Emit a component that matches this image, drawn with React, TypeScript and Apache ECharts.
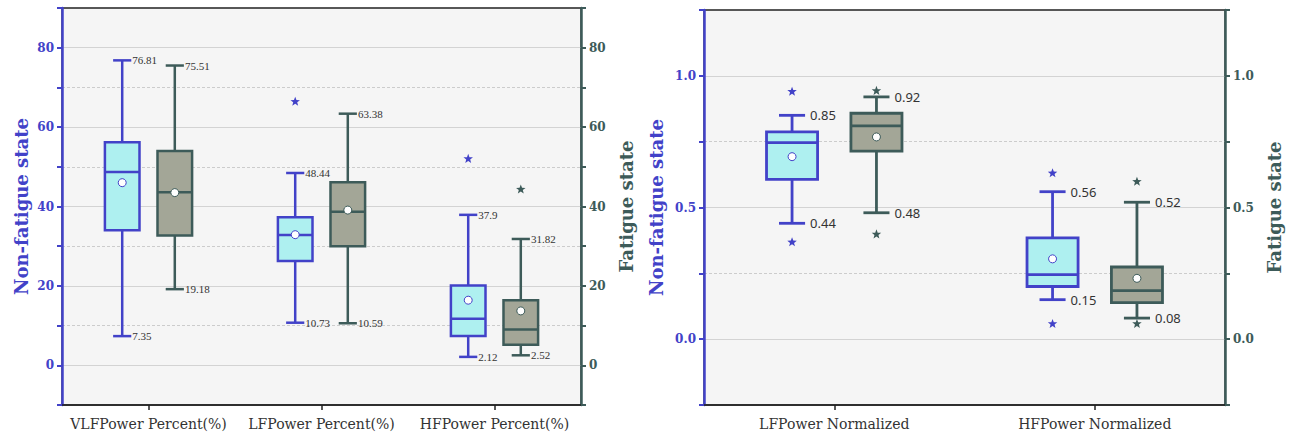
import React, { useEffect, useRef } from "react";
import * as echarts from "echarts";

// Category names of both panels
const percentCategories = ["VLFPower Percent(%)", "LFPower Percent(%)", "HFPower Percent(%)"];
const normalizedCategories = ["LFPower Normalized", "HFPower Normalized"];

// Box statistics per category: [lower whisker, Q1, median, Q3, upper whisker, mean]
const percentNonFatigue = [
  [7.35, 34.0, 48.7, 56.2, 76.81, 46.0],
  [10.73, 26.3, 32.8, 37.3, 48.44, 32.9],
  [2.12, 7.4, 11.7, 20.1, 37.9, 16.4],
];
const percentFatigue = [
  [19.18, 32.7, 43.6, 54.0, 75.51, 43.5],
  [10.59, 30.0, 38.7, 46.1, 63.38, 39.1],
  [2.52, 5.2, 9.0, 16.4, 31.82, 13.7],
];
const normalizedNonFatigue = [
  [0.44, 0.607, 0.746, 0.787, 0.85, 0.693],
  [0.15, 0.2, 0.245, 0.385, 0.56, 0.305],
];
const normalizedFatigue = [
  [0.48, 0.714, 0.81, 0.858, 0.92, 0.768],
  [0.08, 0.139, 0.184, 0.274, 0.52, 0.231],
];

// Outliers: [category index, value]
const percentNonFatigueOutliers = [[1, 66.4], [2, 52.0]];
const percentFatigueOutliers = [[2, 44.3]];
const normalizedNonFatigueOutliers = [[0, 0.94], [0, 0.368], [1, 0.63], [1, 0.058]];
const normalizedFatigueOutliers = [[0, 0.943], [0, 0.398], [1, 0.598], [1, 0.058]];

// Value axes: range, step and the ticks that carry a label
const percentRange = [-10, 90];
const percentStep = 10;
const percentLabelValues = [0, 20, 40, 60, 80];
const normalizedRange = [-0.25, 1.25];
const normalizedStep = 0.25;
const normalizedLabelValues = [0, 0.5, 1.0];

const BLUE = "#4242c8";
const CYAN = "#aef0f0";
const SLATE = "#3d5b59";
const GREY = "#a3a697";
const SERIF = "DejaVu Serif";

type BoxOpts = {
  offset: number;
  box: number;
  cap: number;
  lw: number;
  meanR: number;
  labelGap: number;
  labelFont: string;
  labelSize: number;
};

function boxRenderer(side: number, stroke: string, fill: string, meanStroke: string, o: BoxOpts) {
  return (params: any, api: any) => {
    const cat = api.value(0);
    const band = api.size([1, 0])[0];
    const cx = api.coord([cat, 0])[0] + side * o.offset * band;
    const yOf = (i: number) => api.coord([cat, api.value(i)])[1];
    const yMin = yOf(1), yQ1 = yOf(2), yMed = yOf(3), yQ3 = yOf(4), yMax = yOf(5), yMean = yOf(6);
    const hb = (o.box * band) / 2;
    const hc = (o.cap * band) / 2;
    const line = (x1: number, y1: number, x2: number, y2: number) => ({
      type: "line",
      shape: { x1, y1, x2, y2 },
      style: { stroke, lineWidth: o.lw },
    });
    const label = (y: number, v: number) => ({
      type: "text",
      x: cx + hc + o.labelGap,
      y,
      style: {
        text: String(v),
        fill: "#333",
        fontSize: o.labelSize,
        fontFamily: o.labelFont,
        align: "left",
        verticalAlign: "middle",
      },
    });
    return {
      type: "group",
      children: [
        line(cx, yMax, cx, yQ3),
        line(cx, yQ1, cx, yMin),
        line(cx - hc, yMax, cx + hc, yMax),
        line(cx - hc, yMin, cx + hc, yMin),
        {
          type: "rect",
          shape: { x: cx - hb, y: yQ3, width: 2 * hb, height: yQ1 - yQ3 },
          style: { fill, stroke, lineWidth: o.lw },
        },
        line(cx - hb, yMed, cx + hb, yMed),
        {
          type: "circle",
          shape: { cx, cy: yMean, r: o.meanR },
          style: { fill: "#fff", stroke: meanStroke, lineWidth: 1 },
        },
        label(yMax, api.value(5)),
        label(yMin, api.value(1)),
      ],
    };
  };
}

function starRenderer(side: number, color: string, offset: number, r: number) {
  return (params: any, api: any) => {
    const cat = api.value(0);
    const band = api.size([1, 0])[0];
    const [x0, y0] = api.coord([cat, api.value(1)]);
    const cx = x0 + side * offset * band;
    const points: number[][] = [];
    for (let k = 0; k < 10; k++) {
      const a = -Math.PI / 2 + (k * Math.PI) / 5;
      const rr = k % 2 === 0 ? r : r * 0.42;
      points.push([cx + rr * Math.cos(a), y0 + rr * Math.sin(a)]);
    }
    return { type: "polygon", shape: { points }, style: { fill: color } };
  };
}

const isLabelled = (labels: number[]) => (v: number) => labels.some((l) => Math.abs(l - v) < 1e-9);

function valueAxis(
  gridIndex: number,
  position: "left" | "right",
  color: string,
  range: number[],
  step: number,
  labels: number[],
  digits: number,
  name: string,
  nameGap: number,
  lineColors: string[],
  dashed: boolean
) {
  const labelled = isLabelled(labels);
  return {
    type: "value",
    gridIndex,
    position,
    min: range[0],
    max: range[1],
    interval: step,
    name,
    nameLocation: "middle",
    nameGap,
    nameTextStyle: { color, fontFamily: SERIF, fontWeight: "bold", fontSize: 18 },
    axisLine: { show: true, lineStyle: { color, width: 2.5 } },
    axisTick: { show: true, inside: false, length: 5, lineStyle: { color, width: 2 } },
    axisLabel: {
      color,
      fontFamily: SERIF,
      fontWeight: "bold",
      fontSize: 12,
      margin: 8,
      formatter: (v: number) => (labelled(v) ? v.toFixed(digits) : ""),
    },
    splitLine: {
      show: true,
      showMinLine: false,
      showMaxLine: false,
      lineStyle: { color: lineColors, width: 1, type: dashed ? [3, 2] : "solid" },
    },
  };
}

function categoryAxis(gridIndex: number, data: string[]) {
  return {
    type: "category",
    gridIndex,
    data,
    boundaryGap: true,
    axisLine: { show: true, onZero: false, lineStyle: { color: "#222", width: 1.5 } },
    axisTick: { show: true, alignWithLabel: true, length: 5, lineStyle: { color: "#222", width: 1.5 } },
    axisLabel: { color: "#333", fontFamily: SERIF, fontSize: 14, margin: 12, interval: 0 },
    splitLine: { show: false },
  };
}

const withIndex = (rows: number[][]) => rows.map((r, i) => [i, ...r]);

export default function App() {
  const ref = useRef<HTMLDivElement>(null);

  useEffect(() => {
    if (!ref.current) return;
    const chart = echarts.init(ref.current, undefined, { renderer: "svg" });

    const leftOpts: BoxOpts = {
      offset: 0.152, box: 0.2, cap: 0.105, lw: 2.5, meanR: 4,
      labelGap: 1, labelFont: "Liberation Serif", labelSize: 11,
    };
    const rightOpts: BoxOpts = {
      offset: 0.162, box: 0.196, cap: 0.1, lw: 2.8, meanR: 4,
      labelGap: 5, labelFont: "Noto Sans", labelSize: 13,
    };

    // Lines alternate from the first interior tick: labelled ticks solid, the ones between dashed
    const solidCycle = ["#d3d3d3", "rgba(0,0,0,0)"];
    const dashedCycle = ["rgba(0,0,0,0)", "#cccccc"];

    const option = {
      animation: false,
      grid: [
        { left: 62, top: 8, width: 519, height: 397, show: true, backgroundColor: "#f5f5f5", borderColor: "#222", borderWidth: 1.3 },
        { left: 704, top: 10, width: 521, height: 395, show: true, backgroundColor: "#f5f5f5", borderColor: "#222", borderWidth: 1.3 },
      ],
      xAxis: [categoryAxis(0, percentCategories), categoryAxis(1, normalizedCategories)],
      yAxis: [
        valueAxis(0, "left", BLUE, percentRange, percentStep, percentLabelValues, 0, "Non-fatigue state", 32, solidCycle, false),
        valueAxis(0, "right", SLATE, percentRange, percentStep, percentLabelValues, 0, "Fatigue state", 36, dashedCycle, true),
        valueAxis(1, "left", BLUE, normalizedRange, normalizedStep, normalizedLabelValues, 1, "Non-fatigue state", 39, solidCycle, false),
        valueAxis(1, "right", SLATE, normalizedRange, normalizedStep, normalizedLabelValues, 1, "Fatigue state", 40, dashedCycle, true),
      ],
      series: [
        {
          type: "custom", name: "Non-fatigue", xAxisIndex: 0, yAxisIndex: 0,
          data: withIndex(percentNonFatigue), encode: { x: 0, y: [1, 2, 3, 4, 5, 6] },
          renderItem: boxRenderer(-1, BLUE, CYAN, BLUE, leftOpts), z: 3,
        },
        {
          type: "custom", name: "Fatigue", xAxisIndex: 0, yAxisIndex: 1,
          data: withIndex(percentFatigue), encode: { x: 0, y: [1, 2, 3, 4, 5, 6] },
          renderItem: boxRenderer(1, SLATE, GREY, SLATE, leftOpts), z: 3,
        },
        {
          type: "custom", xAxisIndex: 0, yAxisIndex: 0, data: percentNonFatigueOutliers,
          encode: { x: 0, y: 1 }, renderItem: starRenderer(-1, BLUE, leftOpts.offset, 5), z: 4,
        },
        {
          type: "custom", xAxisIndex: 0, yAxisIndex: 1, data: percentFatigueOutliers,
          encode: { x: 0, y: 1 }, renderItem: starRenderer(1, SLATE, leftOpts.offset, 5), z: 4,
        },
        {
          type: "custom", name: "Non-fatigue", xAxisIndex: 1, yAxisIndex: 2,
          data: withIndex(normalizedNonFatigue), encode: { x: 0, y: [1, 2, 3, 4, 5, 6] },
          renderItem: boxRenderer(-1, BLUE, CYAN, BLUE, rightOpts), z: 3,
        },
        {
          type: "custom", name: "Fatigue", xAxisIndex: 1, yAxisIndex: 3,
          data: withIndex(normalizedFatigue), encode: { x: 0, y: [1, 2, 3, 4, 5, 6] },
          renderItem: boxRenderer(1, SLATE, GREY, SLATE, rightOpts), z: 3,
        },
        {
          type: "custom", xAxisIndex: 1, yAxisIndex: 2, data: normalizedNonFatigueOutliers,
          encode: { x: 0, y: 1 }, renderItem: starRenderer(-1, BLUE, rightOpts.offset, 5), z: 4,
        },
        {
          type: "custom", xAxisIndex: 1, yAxisIndex: 3, data: normalizedFatigueOutliers,
          encode: { x: 0, y: 1 }, renderItem: starRenderer(1, SLATE, rightOpts.offset, 5), z: 4,
        },
      ],
    };

    chart.setOption(option as any);
    return () => chart.dispose();
  }, []);

  return (
    <div
      ref={ref}
      style={{ position: "absolute", left: 0, top: 0, width: 1294, height: 439, background: "#fff" }}
    />
  );
}
